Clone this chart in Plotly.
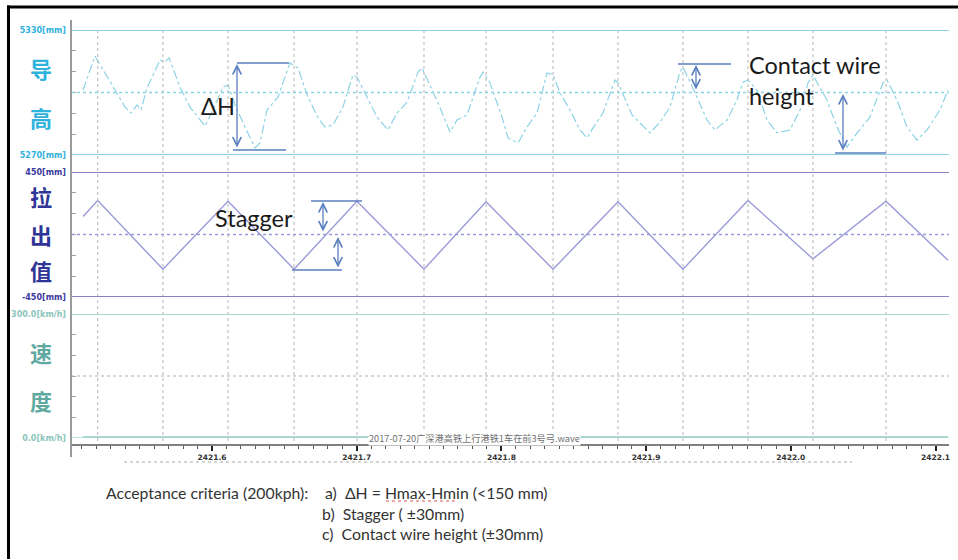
import plotly.graph_objects as go

# ---------------- data ----------------
mast_km = [2421.5210, 2421.5661, 2421.6111, 2421.6567, 2421.7002, 2421.7465, 2421.7894,
           2421.8357, 2421.8806, 2421.9255, 2421.9704, 2422.0153, 2422.0658]

stagger_km = [2421.5109] + mast_km + [2422.1086]
stagger_mm = [130, 245, -250, 240, -250, 240, -250, 235, -250, 235, -250, 245, -175, 240, -185]

height_km = [2421.5109, 2421.5191, 2421.5330, 2421.5399, 2421.5440, 2421.5482, 2421.5509, 2421.5551,
             2421.5641, 2421.5675, 2421.5703, 2421.5779, 2421.5848, 2421.5917, 2421.5952, 2421.6007,
             2421.6076, 2421.6111, 2421.6159, 2421.6228, 2421.6297, 2421.6332, 2421.6380, 2421.6456,
             2421.6539, 2421.6594, 2421.6663, 2421.6733, 2421.6781, 2421.6836, 2421.6905, 2421.6974,
             2421.7002, 2421.7071, 2421.7140, 2421.7216, 2421.7279, 2421.7348, 2421.7424, 2421.7451,
             2421.7562, 2421.7645, 2421.7693, 2421.7762, 2421.7852, 2421.7873, 2421.7921, 2421.8004,
             2421.8046, 2421.8115, 2421.8177, 2421.8246, 2421.8315, 2421.8357, 2421.8405, 2421.8474,
             2421.8543, 2421.8592, 2421.8633, 2421.8702, 2421.8785, 2421.8806, 2421.8903, 2421.8958,
             2421.9027, 2421.9096, 2421.9165, 2421.9234, 2421.9255, 2421.9352, 2421.9421, 2421.9476,
             2421.9559, 2421.9628, 2421.9670, 2421.9704, 2421.9766, 2421.9836, 2421.9905, 2421.9994,
             2422.0064, 2422.0119, 2422.0153, 2422.0250, 2422.0319, 2422.0388, 2422.0458, 2422.0547,
             2422.0637, 2422.0665, 2422.0734, 2422.0803, 2422.0872, 2422.0941, 2422.1031, 2422.1086]
height_mm = [5301.2, 5317.5, 5301.2, 5293.0, 5290.2, 5294.0, 5291.6, 5302.2,
             5315.6, 5314.6, 5316.6, 5302.6, 5293.0, 5286.8, 5283.9, 5291.6,
             5302.6, 5303.6, 5294.0, 5283.4, 5273.4, 5275.8, 5291.6, 5297.8,
             5314.2, 5311.8, 5297.8, 5287.8, 5283.4, 5284.4, 5293.0, 5308.4,
             5307.4, 5297.8, 5288.2, 5282.0, 5290.2, 5295.4, 5309.8, 5311.8,
             5295.0, 5281.0, 5286.8, 5289.2, 5307.4, 5309.8, 5304.6, 5288.2,
             5278.2, 5275.8, 5283.4, 5290.2, 5309.4, 5308.4, 5299.8, 5291.6,
             5282.0, 5278.2, 5283.0, 5290.2, 5306.0, 5304.6, 5289.2, 5285.4,
             5280.6, 5285.8, 5293.0, 5309.8, 5312.2, 5297.8, 5286.8, 5282.0,
             5286.8, 5296.4, 5305.0, 5306.0, 5301.2, 5286.8, 5280.6, 5282.0,
             5291.6, 5304.6, 5308.4, 5296.4, 5283.4, 5273.8, 5280.6, 5288.2,
             5304.6, 5306.0, 5296.4, 5283.4, 5277.2, 5282.0, 5291.6, 5301.2]

speed_km = [2421.5109, 2422.1086]
speed_kmh = [0, 0]

x_tick_vals = [2421.6, 2421.7, 2421.8, 2421.9, 2422.0, 2422.1]
x_tick_text = ["2421.6", "2421.7", "2421.8", "2421.9", "2422.0", "2422.1"]

height_range = [5270, 5330]
stagger_range = [-450, 450]
speed_range = [0, 300]

caption = "2017-07-20广深港高铁上行港铁1车在前3号弓.wave"

# ---------------- layout helpers (pixel -> paper / axis units) ----------------
W, H = 958, 560
L, R, T, B = 71, 949, 20, 457


def px_x(px):
    return (px - L) / (R - L)


def px_y(py):
    return (B - py) / (B - T)


def km_at(px):
    return 2421.6 + (px - 212) / 1447.0


def h_at(py):
    return 5300 + (92.5 - py) * 0.48


def s_at(py):
    return (234.5 - py) * 7.2


C_H = "#8dd3e4"
C_H_TXT = "#2fb2dc"
C_S = "#9a9ad8"
C_S_LINE = "#8383c6"
C_S_TXT = "#2e3596"
C_V = "#9fd4cc"
C_V_TXT = "#5fa9a0"
C_ANN = "#5a7fc0"

fig = go.Figure()

fig.add_trace(go.Scatter(x=height_km, y=height_mm, mode="lines", yaxis="y",
                         line=dict(color=C_H, width=1.2, dash="dashdot"), hoverinfo="skip"))
fig.add_trace(go.Scatter(x=stagger_km, y=stagger_mm, mode="lines", yaxis="y2",
                         line=dict(color=C_S, width=1.4), hoverinfo="skip"))
fig.add_trace(go.Scatter(x=speed_km, y=speed_kmh, mode="lines", yaxis="y3",
                         line=dict(color="#92c9c1", width=3.5), hoverinfo="skip", cliponaxis=False))

shapes = []
# vertical dotted mast grid lines
for xm in mast_km:
    shapes.append(dict(type="line", xref="x", yref="paper", x0=xm, x1=xm,
                       y0=px_y(441), y1=px_y(30), line=dict(color="#b5b5b5", width=1, dash="dot")))
# panel boundaries
for yv, ax_, col, w in [(5330, "y", C_H, 2), (5270, "y", C_H, 2),
                        (450, "y2", C_S_LINE, 2), (-450, "y2", C_S_LINE, 2),
                        (300, "y3", "#a9dbd4", 2), (0, "y3", "#a9dbd4", 1.5)]:
    shapes.append(dict(type="line", xref="paper", yref=ax_, x0=0, x1=1, y0=yv, y1=yv,
                       line=dict(color=col, width=w)))
# mid dotted lines
shapes.append(dict(type="line", xref="paper", yref="y", x0=0, x1=1, y0=5300, y1=5300,
                   line=dict(color=C_H, width=1.5, dash="dot")))
shapes.append(dict(type="line", xref="paper", yref="y2", x0=0, x1=1, y0=0, y1=0,
                   line=dict(color=C_S, width=1.5, dash="dot")))
shapes.append(dict(type="line", xref="paper", yref="y3", x0=0, x1=1, y0=150, y1=150,
                   line=dict(color="#b0b0b0", width=1, dash="dot")))
# left axis line
shapes.append(dict(type="line", xref="paper", yref="paper", x0=0, x1=0, y0=0, y1=1,
                   line=dict(color="#9a9a9a", width=2)))
# dotted line under x labels
shapes.append(dict(type="line", xref="paper", yref="paper", x0=px_x(124), x1=px_x(852),
                   y0=px_y(462), y1=px_y(462), line=dict(color="#aaaaaa", width=1, dash="dot")))
# picture border
shapes.append(dict(type="line", xref="paper", yref="paper", x0=px_x(7), x1=px_x(958),
                   y0=px_y(7), y1=px_y(7), line=dict(color="black", width=3)))
shapes.append(dict(type="line", xref="paper", yref="paper", x0=px_x(8.5), x1=px_x(8.5),
                   y0=px_y(5.5), y1=px_y(559), line=dict(color="black", width=3)))
# annotation guide lines
shapes.append(dict(type="line", xref="x", yref="y", x0=km_at(237), x1=km_at(289),
                   y0=h_at(63), y1=h_at(63), line=dict(color=C_ANN, width=1.5)))
shapes.append(dict(type="line", xref="x", yref="y", x0=km_at(233), x1=km_at(286),
                   y0=h_at(150), y1=h_at(150), line=dict(color=C_ANN, width=1.5)))
shapes.append(dict(type="line", xref="x", yref="y", x0=km_at(678), x1=km_at(731),
                   y0=h_at(64), y1=h_at(64), line=dict(color=C_ANN, width=1.5)))
shapes.append(dict(type="line", xref="x", yref="y", x0=km_at(835), x1=km_at(886),
                   y0=h_at(153), y1=h_at(153), line=dict(color=C_ANN, width=1.5)))
shapes.append(dict(type="line", xref="x", yref="y2", x0=km_at(311), x1=km_at(362),
                   y0=s_at(201), y1=s_at(201), line=dict(color=C_ANN, width=1.5)))
shapes.append(dict(type="line", xref="x", yref="y2", x0=km_at(292), x1=km_at(342),
                   y0=s_at(270), y1=s_at(270), line=dict(color=C_ANN, width=1.5)))
# spell-check underline
shapes.append(dict(type="line", xref="paper", yref="paper", x0=px_x(386), x1=px_x(457),
                   y0=px_y(501), y1=px_y(501), line=dict(color="#e05050", width=1, dash="dot")))

annotations = []


def darrow(xpx, y0, y1, yref, conv):
    annotations.append(dict(xref="x", yref=yref, axref="x", ayref=yref,
                            x=km_at(xpx), y=conv(y0), ax=km_at(xpx), ay=conv(y1),
                            text="", showarrow=True, arrowside="end+start", arrowhead=5,
                            arrowsize=1.3, arrowwidth=1.3, arrowcolor=C_ANN, standoff=0, startstandoff=0))


darrow(237, 64, 149, "y", h_at)
darrow(696, 65, 91, "y", h_at)
darrow(843, 94, 152, "y", h_at)
darrow(323, 202, 233, "y2", s_at)
darrow(338, 237, 269, "y2", s_at)

big_font = "Noto Sans CJK SC"
for ch, py, col in [("导", 68, C_H_TXT), ("高", 117, C_H_TXT),
                    ("拉", 196, C_S_TXT), ("出", 234, C_S_TXT), ("值", 270, C_S_TXT),
                    ("速", 352, C_V_TXT), ("度", 400, C_V_TXT)]:
    annotations.append(dict(xref="paper", yref="paper", x=px_x(41), y=px_y(py), text="<b>%s</b>" % ch,
                            showarrow=False, xanchor="center", yanchor="middle",
                            font=dict(family=big_font, size=22, color=col)))

annotations.append(dict(xref="paper", yref="paper", x=px_x(474), y=px_y(438), text=caption,
                        showarrow=False, xanchor="center", yanchor="middle", bgcolor="white",
                        borderpad=0, font=dict(family="Noto Sans CJK SC", size=9.2, color="#707070")))

txt_font = dict(family="Lato, Open Sans, sans-serif", size=23.5, color="#1a1a1a")
annotations.append(dict(xref="paper", yref="paper", x=px_x(218), y=px_y(106), text="ΔH",
                        showarrow=False, xanchor="center", yanchor="middle", font=txt_font))
annotations.append(dict(xref="paper", yref="paper", x=px_x(254), y=px_y(218), text="Stagger",
                        showarrow=False, xanchor="center", yanchor="middle", font=txt_font))
annotations.append(dict(xref="paper", yref="paper", x=px_x(747), y=px_y(65), text="Contact wire",
                        showarrow=False, xanchor="left", yanchor="middle", font=txt_font))
annotations.append(dict(xref="paper", yref="paper", x=px_x(747), y=px_y(96), text="height",
                        showarrow=False, xanchor="left", yanchor="middle", font=txt_font))

crit_font = dict(family="Lato, Open Sans, sans-serif", size=15.8, color="#333333")
for txt, xpx, py in [("Acceptance criteria (200kph):", 104, 492),
                     ("a)  ΔH = Hmax-Hmin (<150 mm)", 323, 492),
                     ("b)  Stagger ( ±30mm)", 320, 513),
                     ("c)  Contact wire height (±30mm)", 320, 533)]:
    annotations.append(dict(xref="paper", yref="paper", x=px_x(xpx), y=px_y(py), text=txt,
                            showarrow=False, xanchor="left", yanchor="middle", font=crit_font))

lab_font = dict(family="DejaVu Sans", size=8)


def yax(domain, rng, ticks, labels, minor_vals, col):
    return dict(domain=domain, range=rng, anchor="free", position=0,
                tickvals=ticks, ticktext=["<b>%s</b>" % t for t in labels],
                tickfont=dict(lab_font, color=col), ticks="", ticklabelstandoff=5,
                showgrid=False, zeroline=False, showline=False, fixedrange=True,
                minor=dict(tickvals=minor_vals, ticks="inside", ticklen=4,
                           tickcolor="#a0a0a0", tickwidth=1, showgrid=False))


fig.update_layout(
    width=W, height=H,
    margin=dict(l=L, r=W - R, t=T, b=H - B, pad=0),
    paper_bgcolor="white", plot_bgcolor="white",
    showlegend=False,
    xaxis=dict(range=[km_at(L), km_at(R)], anchor="free", position=px_y(445),
               tickvals=x_tick_vals, ticktext=["<b>%s</b>" % t for t in x_tick_text],
               tickfont=dict(family="DejaVu Sans", size=7.5, color="#333333"),
               ticks="outside", ticklen=5, tickwidth=2, tickcolor="#222222",
               showline=True, linecolor="#808080", linewidth=1.5,
               showgrid=False, zeroline=False, fixedrange=True,
               minor=dict(dtick=0.01, tick0=2421.6, ticks="outside", ticklen=3,
                          tickcolor="#555555", tickwidth=1, showgrid=False)),
    yaxis=yax([px_y(155), px_y(30)], height_range, [5270, 5330], ["5270[mm]", "5330[mm]"],
              [5280, 5290, 5300, 5310, 5320], C_H_TXT),
    yaxis2=yax([px_y(297), px_y(172)], stagger_range, [-450, 450], ["-450[mm]", "450[mm]"],
               [-300, -150, 0, 150, 300], "#3a3a9e"),
    yaxis3=yax([px_y(438), px_y(314)], speed_range, [0, 300], ["0.0[km/h]", "300.0[km/h]"],
               [50, 100, 150, 200, 250], "#8cc4bc"),
    shapes=shapes,
    annotations=annotations,
)

fig.write_html("out.html", config={"displayModeBar": False},
               post_script="document.body.style.margin='0';document.body.style.overflow='hidden';")
